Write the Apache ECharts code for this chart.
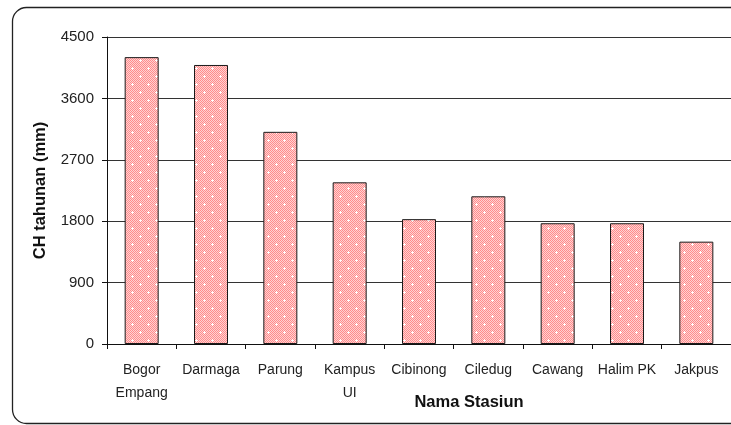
<!DOCTYPE html>
<html>
<head>
<meta charset="utf-8">
<script src="https://cdn.jsdelivr.net/npm/echarts@6/dist/echarts.min.js"></script>
<style>
  html, body { margin: 0; padding: 0; background: #fff; }
  #chart { width: 731px; height: 425px; }
</style>
</head>
<body>
<div id="chart"></div>
<script>
// Annual rainfall per station
const stations = ['Bogor\nEmpang', 'Darmaga', 'Parung', 'Kampus\nUI', 'Cibinong', 'Ciledug', 'Cawang', 'Halim PK', 'Jakpus'];
const rainfall = [4205, 4090, 3110, 2370, 1830, 2165, 1770, 1770, 1500];
const yTicks = [0, 900, 1800, 2700, 3600, 4500];

// Pick a condensed face for the category labels when one is installed
function hasFont(name) {
  const c = document.createElement('canvas').getContext('2d');
  const s = 'Halim PK Cibinong 0123';
  c.font = '40px monospace';
  const base = c.measureText(s).width;
  c.font = '40px "' + name + '", monospace';
  return c.measureText(s).width !== base;
}
const narrow = hasFont('Liberation Sans Narrow');
const catFont = narrow ? '"Liberation Sans Narrow"' : '"Liberation Sans", Arial';
const catSize = narrow ? 16 : 14;

// Pink checkered fill with small white crosses
function makePattern() {
  const cv = document.createElement('canvas');
  cv.width = 16; cv.height = 16;
  const g = cv.getContext('2d');
  for (let y = 0; y < 16; y++) {
    for (let x = 0; x < 16; x++) {
      g.fillStyle = ((x + y) % 2 === 0) ? '#ff8c8c' : '#ffd2d2';
      g.fillRect(x, y, 1, 1);
    }
  }
  g.fillStyle = '#ffffff';
  [[4, 4], [12, 12]].forEach(function (p) {
    g.fillRect(p[0] - 1, p[1], 3, 1);
    g.fillRect(p[0], p[1] - 1, 1, 3);
  });
  return cv;
}

const chart = echarts.init(document.getElementById('chart'), null, { renderer: 'canvas' });
chart.setOption({
  backgroundColor: '#ffffff',
  animation: false,
  grid: { left: 107, right: 0, top: 37, bottom: 81, containLabel: false, outerBoundsMode: 'none' },
  graphic: [{
    type: 'rect',
    z: -1,
    shape: { x: 12.5, y: 7.5, width: 740, height: 416, r: 14 },
    style: { fill: 'none', stroke: '#222', lineWidth: 1.3 }
  }],
  xAxis: {
    type: 'category',
    data: stations,
    name: 'Nama Stasiun',
    nameLocation: 'middle',
    nameGap: 50,
    nameMoveOverlap: false,
    nameTextStyle: {
      fontFamily: '"Liberation Sans", Arial', fontWeight: 'bold', fontSize: 16.5,
      color: '#111', padding: [0, 0, 0, 100]
    },
    axisLine: { lineStyle: { color: '#111', width: 1 } },
    axisTick: { show: true, interval: 0, length: 5, lineStyle: { color: '#111' } },
    axisLabel: {
      interval: 0, hideOverlap: false,
      margin: 15, color: '#222', fontFamily: catFont, fontSize: catSize, lineHeight: 23
    }
  },
  yAxis: {
    type: 'value',
    min: 0, max: 4500, interval: 900,
    name: 'CH tahunan (mm)',
    nameLocation: 'middle',
    nameGap: 58,
    nameMoveOverlap: false,
    nameTextStyle: {
      fontFamily: '"Liberation Sans", Arial', fontWeight: 'bold', fontSize: 16.5, color: '#111'
    },
    axisLine: { show: true, lineStyle: { color: '#111', width: 1 } },
    axisTick: { show: true, length: 5, lineStyle: { color: '#111' } },
    axisLabel: {
      margin: 13, color: '#222', fontFamily: '"Liberation Sans", Arial', fontSize: 15,
      formatter: function (v) { return yTicks.indexOf(v) >= 0 ? String(v) : ''; }
    },
    splitLine: { show: true, lineStyle: { color: '#333', width: 1 } }
  },
  series: [{
    type: 'bar',
    data: rainfall,
    barWidth: 34,
    itemStyle: {
      color: { image: makePattern(), repeat: 'repeat' },
      borderColor: '#1a1a1a',
      borderWidth: 1
    }
  }]
});
</script>
</body>
</html>
